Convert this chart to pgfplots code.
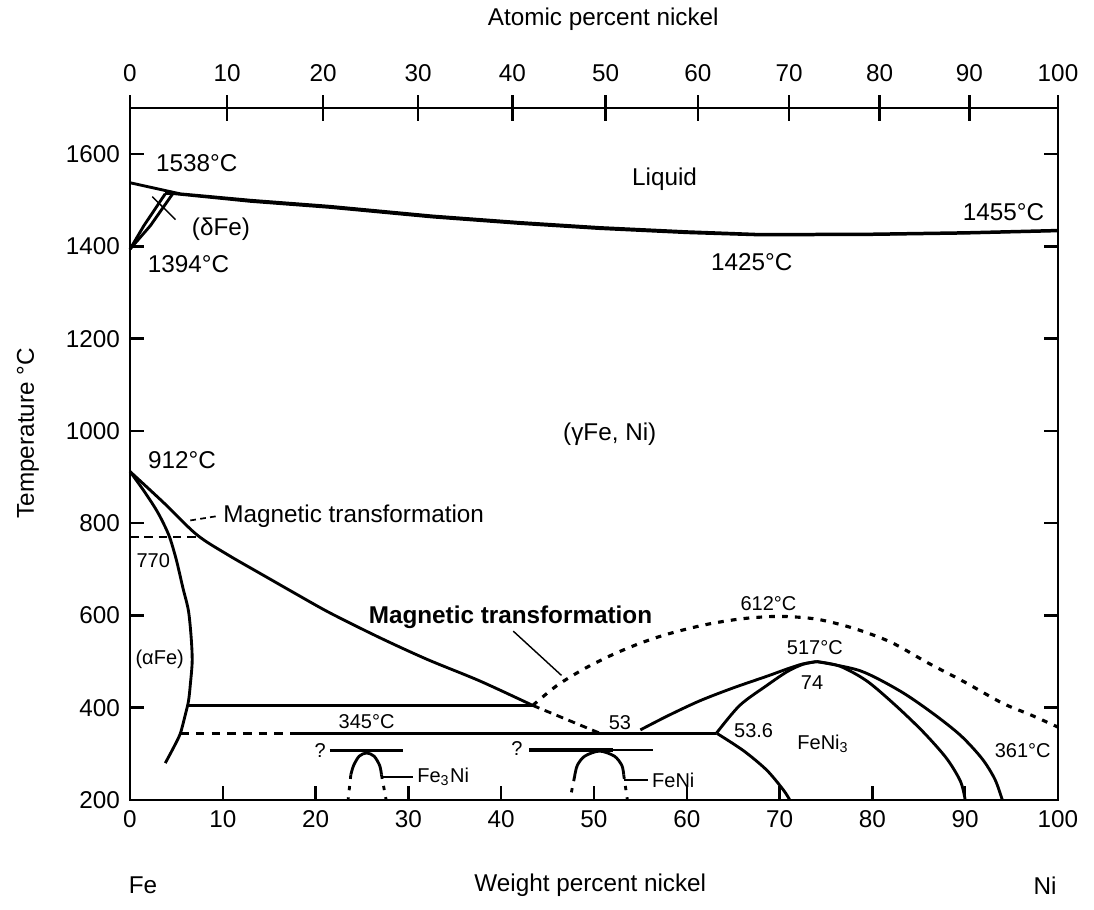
\documentclass[border=0pt]{standalone}
\usepackage{fontspec}
\setmainfont{Liberation Sans}
\usepackage{pgfplots}
\pgfplotsset{compat=1.18}
\newcommand{\fA}{\fontsize{8.5}{10}\selectfont}
\newcommand{\fB}{\fontsize{7}{8}\selectfont}
\begin{document}
\begin{tikzpicture}
\path[use as bounding box] (-45.5pt,-38.5pt) rectangle (337.4pt,280pt);
% ---------- top axis: atomic percent ----------
\begin{axis}[
  scale only axis, width=324.8pt, height=242.2pt,
  xmin=0, xmax=100, ymin=200, ymax=1700,
  axis x line*=top, axis y line=none,
  xtick={0,10.456,20.807,31.054,41.198,51.242,61.187,71.033,80.783,90.438,100},
  xticklabels={0,10,20,30,40,50,60,70,80,90,100},
  xtick align=center, major tick length=9pt,
  axis line style={line width=0.9pt},
  tick style={line width=0.9pt, black},
  xticklabel style={font=\fA, yshift=1pt},
  /pgf/number format/assume math mode=true,
  xlabel={Atomic percent nickel},
  xlabel style={font=\fA, at={(axis description cs:0.51,1)}, anchor=center, yshift=31pt},
]
\end{axis}
% ---------- main axis: weight percent ----------
\begin{axis}[
  scale only axis, width=324.8pt, height=242.2pt,
  xmin=0, xmax=100, ymin=200, ymax=1700,
  xtick={0,10,...,100}, ytick={200,400,...,1600},
  xtick pos=left, ytick pos=both, yticklabel pos=left,
  tick align=inside, major tick length=5pt,
  axis line style={line width=0.9pt},
  tick style={line width=0.9pt, black},
  ticklabel style={font=\fA},
  /pgf/number format/assume math mode=true,
  /pgf/number format/1000 sep={},
  xlabel={Weight percent nickel},
  xlabel style={font=\fA, at={(axis description cs:0.496,0)}, anchor=center, yshift=-30pt},
  ylabel={Temperature °C},
  ylabel style={font=\fA, at={(axis description cs:-0.11,0.53)}, anchor=center},
  clip=false,
  cycle list={{black, solid, mark=none}},
  every axis plot/.append style={black, line width=1pt, mark=none},
]
% liquidus / solidus
\addplot coordinates {(0,1538)(5.4,1514)(13,1500)(21.5,1487)(32.6,1466)(42,1452)(50.6,1441)(60,1432)(68,1426)(80,1427)(90,1430)(100,1435)};
\addplot[line width=0.8pt] coordinates {(4.6,1514)(13,1497)(21.5,1484)(32.6,1463)(42,1449)(50.6,1438)(60,1429)(68,1424)(80,1425)(90,1428)(100,1433)};
\addplot[black] coordinates {(3.8,1514)(5.4,1514)};
% delta lens
\addplot[black] coordinates {(0,1394)(1.5,1445)(3.8,1514)};
\addplot[black] coordinates {(0,1394)(2.2,1445)(4.6,1514)};
\addplot[line width=0.5pt] coordinates {(2.4,1508)(4.9,1458)};
% alpha boundary
\addplot[smooth] coordinates {(0,912)(1.5,870)(2.8,830)(3.6,800)(4.3,768)(5.0,720)(5.7,660)(6.3,610)(6.6,550)(6.7,500)(6.5,450)(6.3,414)(5.9,380)(5.4,343)(4.6,310)(3.8,280)};
% gamma boundary
\addplot[smooth] coordinates {(0,912)(3.6,845)(7.2,775)(10.5,732)(14.3,688)(18.3,642)(21.6,605)(26.9,552)(32,505)(37.7,458)(43.4,405)};
% 770 magnetic
\addplot[dash pattern=on 3pt off 2pt, line width=0.8pt] coordinates {(0,770)(7.2,770)};
\addplot[dash pattern=on 2pt off 1.5pt, line width=0.6pt] coordinates {(6.5,806)(9.6,816)};
% ~400 line
\addplot[black] coordinates {(6.3,405)(43.4,405)};
\addplot[dash pattern=on 2.5pt off 2pt] coordinates {(43.4,405)(47,375)(50.6,345)};
% Curie line
\addplot[smooth, dash pattern=on 2pt off 2.5pt, line width=1.1pt] coordinates {(43.4,405)(46,448)(49,485)(52,515)(55,540)(58,560)(62,580)(66,593)(70,598)(74,592)(78,572)(82,542)(86,497)(90,455)(94,410)(97,385)(100,358)};
\addplot[line width=0.5pt] coordinates {(41.3,566)(46.5,470)};
% 345 line
\addplot[dash pattern=on 3pt off 2.5pt] coordinates {(5.4,345)(18,345)};
\addplot[black] coordinates {(18,345)(63.2,345)};
% FeNi3 region
\addplot[smooth] coordinates {(63.2,345)(66.1,307)(68.6,265)(70.4,222)(71.1,200)};
\addplot[smooth] coordinates {(63.2,345)(65.7,405)(68.6,448)(70.8,478)(72.5,494)(74,500)};
\addplot[smooth] coordinates {(55,352)(58,383)(61.4,415)(65,443)(68.6,468)(70.8,484)(72.5,495)(74,500)};
\addplot[smooth] coordinates {(74,500)(76.5,490)(79.4,458)(82.5,405)(85.5,347)(88,290)(89.5,240)(90,200)};
\addplot[smooth] coordinates {(74,500)(78.7,480)(83,436)(86.5,388)(89.5,340)(91.8,290)(93.2,245)(94,200)};
% Fe3Ni dome
\addplot[line width=1.3pt] coordinates {(21.5,307)(29.4,307)};
\addplot[smooth] coordinates {(23.8,255)(24.1,275)(24.7,295)(25.5,302)(26.3,295)(26.9,275)(27.1,255)};
\addplot[dash pattern=on 1.5pt off 2.5pt] coordinates {(23.8,255)(23.5,200)};
\addplot[dash pattern=on 1.5pt off 2.5pt] coordinates {(27.1,255)(27.6,200)};
\addplot[line width=0.6pt] coordinates {(27.1,250)(30.5,250)};
% FeNi dome
\addplot[line width=1.3pt] coordinates {(43,308)(52,308)};
\addplot[line width=0.8pt] coordinates {(52,308)(56.4,308)};
\addplot[smooth] coordinates {(47.9,250)(48.2,275)(49,295)(50.6,306)(52.2,295)(53,275)(53.2,255)};
\addplot[dash pattern=on 1.5pt off 2.5pt] coordinates {(47.9,250)(47.4,200)};
\addplot[dash pattern=on 1.5pt off 2.5pt] coordinates {(53.2,255)(53.6,200)};
\addplot[line width=0.6pt] coordinates {(53.2,243)(55.8,243)};
% labels
\node[font=\fA] at (axis cs:57.6,1546) {Liquid};
\node[font=\fA] at (axis cs:7.2,1580) {1538°C};
\node[font=\fA] at (axis cs:9.8,1438) {(δFe)};
\node[font=\fA] at (axis cs:6.3,1362) {1394°C};
\node[font=\fA, anchor=east] at (axis cs:99.6,1474) {1455°C};
\node[font=\fA] at (axis cs:67,1366) {1425°C};
\node[font=\fA] at (axis cs:51.7,993) {(γFe, Ni)};
\node[font=\fA] at (axis cs:5.6,937) {912°C};
\node[font=\fA, anchor=west, inner sep=1pt] at (axis cs:9.7,816) {Magnetic transformation};
\node[font=\fB] at (axis cs:2.5,718) {770};
\node[font=\fB] at (axis cs:3.2,506) {(αFe)};
\node[font=\fA\bfseries] at (axis cs:41,597) {Magnetic transformation};
\node[font=\fB] at (axis cs:25.5,369) {345°C};
\node[font=\fB] at (axis cs:20.5,308) {?};
\node[font=\fB] at (axis cs:41.7,312) {?};
\node[font=\fB, anchor=west, inner sep=1pt] at (axis cs:30.6,250) {Fe\textsubscript{3}Ni};
\node[font=\fB, anchor=west, inner sep=1pt] at (axis cs:55.9,243) {FeNi};
\node[font=\fB] at (axis cs:52.8,368) {53};
\node[font=\fB] at (axis cs:67.2,350) {53.6};
\node[font=\fB] at (axis cs:74.7,322) {FeNi\textsubscript{3}};
\node[font=\fB] at (axis cs:73.5,454) {74};
\node[font=\fB] at (axis cs:73.8,530) {517°C};
\node[font=\fB] at (axis cs:68.8,626) {612°C};
\node[font=\fB] at (axis cs:96.2,307) {361°C};
\node[font=\fA] at (axis cs:1.4,200) [yshift=-30pt] {Fe};
\node[font=\fA] at (axis cs:98.6,200) [yshift=-30pt] {Ni};
\end{axis}
\end{tikzpicture}
\end{document}
